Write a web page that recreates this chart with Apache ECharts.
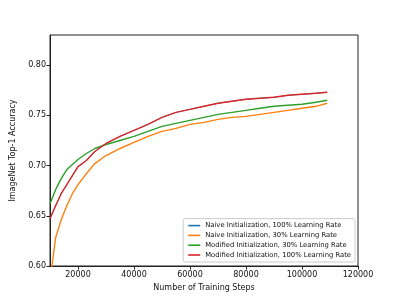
<!DOCTYPE html>
<html>
<head>
<meta charset="utf-8">
<script src="https://cdn.jsdelivr.net/npm/echarts@6/dist/echarts.min.js"></script>
<style>html,body{margin:0;padding:0;background:#fff}#c{width:399px;height:299px}</style>
</head>
<body>
<div id="c"></div>
<script>
var steps = [10000, 12000, 14000, 16000, 18000, 20000, 23000, 26000, 30000, 35000, 40000, 45000, 50000, 55000, 60000, 65000, 70000, 75000, 80000, 85000, 90000, 95000, 100000, 105000, 109000];
var naive100 = [0.647, 0.660, 0.672, 0.681, 0.690, 0.699, 0.705, 0.714, 0.722, 0.729, 0.735, 0.741, 0.748, 0.753, 0.756, 0.759, 0.762, 0.764, 0.766, 0.767, 0.768, 0.770, 0.771, 0.772, 0.773];
var naive30 = [0.585, 0.628, 0.646, 0.660, 0.672, 0.681, 0.692, 0.702, 0.710, 0.717, 0.723, 0.729, 0.734, 0.737, 0.741, 0.743, 0.746, 0.748, 0.749, 0.751, 0.753, 0.755, 0.757, 0.759, 0.762];
var modified30 = [0.662, 0.676, 0.687, 0.696, 0.701, 0.706, 0.712, 0.717, 0.721, 0.725, 0.729, 0.734, 0.739, 0.742, 0.745, 0.748, 0.751, 0.753, 0.755, 0.757, 0.759, 0.760, 0.761, 0.763, 0.765];
var modified100 = [0.647, 0.660, 0.672, 0.681, 0.690, 0.699, 0.705, 0.714, 0.722, 0.729, 0.735, 0.741, 0.748, 0.753, 0.756, 0.759, 0.762, 0.764, 0.766, 0.767, 0.768, 0.770, 0.771, 0.772, 0.773];
var xTicks = [20000, 40000, 60000, 80000, 100000, 120000];
var seriesNames = ['Naive Initialization, 100% Learning Rate', 'Naive Initialization, 30% Learning Rate', 'Modified Initialization, 30% Learning Rate', 'Modified Initialization, 100% Learning Rate'];
var colors = ['#1f77b4', '#ff7f0e', '#2ca02c', '#d62728'];
var allData = [naive100, naive30, modified30, modified100];

function pairs(ys) { return steps.map(function (s, i) { return [s, ys[i]]; }); }

var FONT = 'DejaVu Sans';
var chart = echarts.init(document.getElementById('c'), null, { renderer: 'canvas' });
chart.setOption({
  animation: false,
  color: colors,
  textStyle: { fontFamily: FONT },
  grid: { left: 50, right: 41, top: 35, bottom: 33, show: true, borderColor: '#222', borderWidth: 1, backgroundColor: 'transparent' },
  xAxis: {
    type: 'value', min: 10000, max: 120000,
    name: 'Number of Training Steps', nameLocation: 'middle', nameGap: 16,
    nameTextStyle: { fontFamily: FONT, fontSize: 8, color: '#111' },
    axisLine: { show: true, lineStyle: { color: '#222', width: 1 } },
    axisTick: { show: true, inside: false, length: 3.5, customValues: xTicks, lineStyle: { color: '#222' } },
    axisLabel: { customValues: xTicks, fontFamily: FONT, fontSize: 8, color: '#111', margin: 5, formatter: function (v) { return String(v); } },
    splitLine: { show: false }
  },
  yAxis: {
    type: 'value', min: 0.60, max: 0.83, interval: 0.05,
    name: 'ImageNet Top-1 Accuracy', nameLocation: 'middle', nameGap: 28,
    nameTextStyle: { fontFamily: FONT, fontSize: 8, color: '#111' },
    axisLine: { show: true, lineStyle: { color: '#222', width: 1 } },
    axisTick: { show: true, inside: false, length: 3.5, lineStyle: { color: '#222' } },
    axisLabel: { fontFamily: FONT, fontSize: 8, color: '#111', margin: 4, showMaxLabel: false, formatter: function (v) { return v.toFixed(2); } },
    splitLine: { show: false }
  },
  legend: {
    orient: 'vertical', right: 44, bottom: 37,
    data: seriesNames,
    icon: 'rect', itemWidth: 12, itemHeight: 1.6, itemGap: 1.8,
    padding: [3, 4, 3, 5],
    backgroundColor: '#fff', borderColor: '#ccc', borderWidth: 1, borderRadius: 2,
    textStyle: { fontFamily: FONT, fontSize: 6.8, color: '#111', lineHeight: 8 }
  },
  series: seriesNames.map(function (n, i) {
    return {
      name: n, type: 'line', data: pairs(allData[i]), showSymbol: false, clip: true,
      lineStyle: { width: i === 0 ? 0.8 : 1.4, color: colors[i] }, itemStyle: { color: colors[i] }, z: 2 + i
    };
  })
});
</script>
</body>
</html>
